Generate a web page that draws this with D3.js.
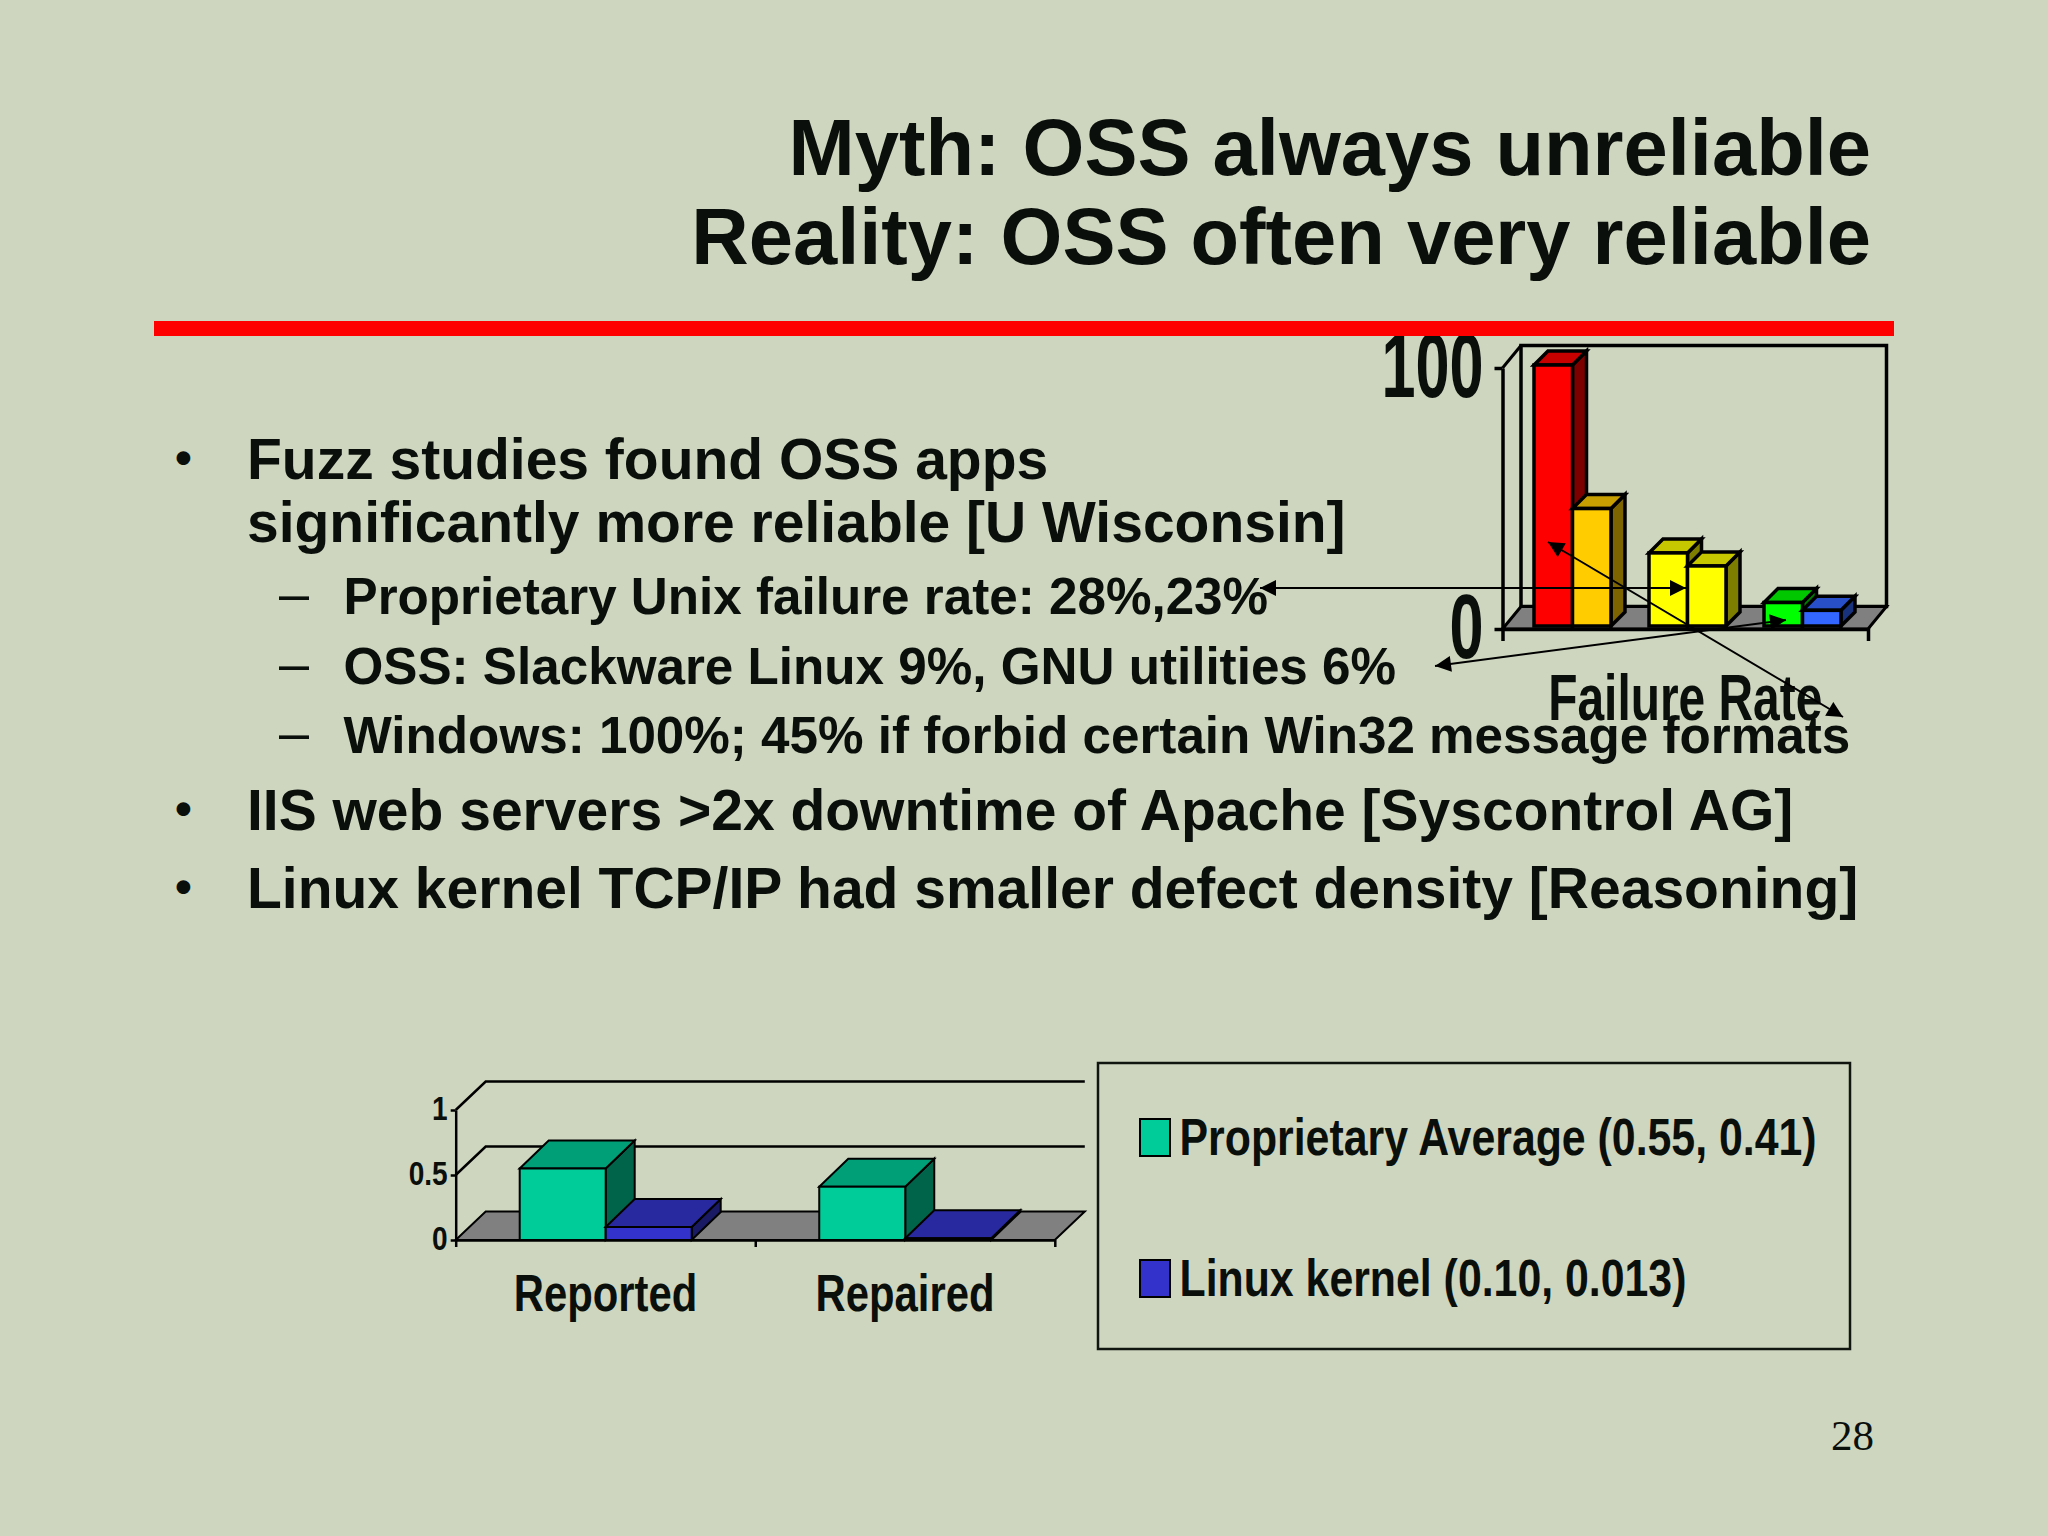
<!DOCTYPE html>
<html>
<head>
<meta charset="utf-8">
<title>Myth: OSS always unreliable</title>
<script src="https://cdn.jsdelivr.net/npm/d3@7"></script>
<style>
  html, body { margin: 0; padding: 0; background: #ced6bf; }
  svg { display: block; }
  text { font-family: "Liberation Sans", Arial, sans-serif; font-weight: bold; fill: #0b0f0b; }
</style>
</head>
<body>
<svg id="canvas" width="2048" height="1536"></svg>
<script>
// slide text
const titleLines = ['Myth: OSS always unreliable', 'Reality: OSS often very reliable'];
const mainLines = [
  'Fuzz studies found OSS apps',
  'significantly more reliable [U Wisconsin]',
  'IIS web servers >2x downtime of Apache [Syscontrol AG]',
  'Linux kernel TCP/IP had smaller defect density [Reasoning]'
];
const subLines = [
  'Proprietary Unix failure rate: 28%,23%',
  'OSS: Slackware Linux 9%, GNU utilities 6%',
  'Windows: 100%; 45% if forbid certain Win32 message formats'
];
const pageNumber = '28';

// failure rate chart
const failureCategory = ['Failure Rate'];
const failureGroups = ['Windows', 'Proprietary Unix', 'OSS'];
const failureFirst = [100, 28, 9];
const failureSecond = [45, 23, 6];
const failureTicks = [0, 100];
const failureFirstColors = ['#ff0000', '#ffff00', '#00ff00'];
const failureSecondColors = ['#ffcc00', '#ffff00', '#3366ff'];

// defect density chart
const defectCategories = ['Reported', 'Repaired'];
const proprietaryValues = [0.55, 0.41];
const linuxValues = [0.10, 0.013];
const defectTicks = [0, 0.5, 1];
const legendLabels = ['Proprietary Average (0.55, 0.41)', 'Linux kernel (0.10, 0.013)'];
const legendColors = ['#00cc99', '#3333cc'];

let canvas = d3.select('#canvas');

canvas.append('rect').attr('width', 2048).attr('height', 1536).attr('fill', '#ced6bf');

canvas.append('defs').append('marker')
  .attr('id', 'arrow')
  .attr('viewBox', '0 0 10 10')
  .attr('refX', 10)
  .attr('refY', 5)
  .attr('markerUnits', 'userSpaceOnUse')
  .attr('markerWidth', 17)
  .attr('markerHeight', 16)
  .attr('orient', 'auto-start-reverse')
  .append('path')
  .attr('d', 'M0,0 L10,5 L0,10 Z')
  .attr('fill', '#000');

// one box: front face, then top, then side
let drawBox = (group, x, y, width, bottom, depth, color, lineWidth) => {
  let dx = depth[0];
  let dy = depth[1];
  let base = d3.color(color);
  group.append('polygon')
    .attr('points', [[x + width, y], [x + width + dx, y - dy], [x + width + dx, bottom - dy], [x + width, bottom]].join(' '))
    .attr('fill', base.darker(2))
    .attr('stroke', '#000').attr('stroke-width', lineWidth);
  group.append('polygon')
    .attr('points', [[x, y], [x + dx, y - dy], [x + width + dx, y - dy], [x + width, y]].join(' '))
    .attr('fill', base.darker(0.7))
    .attr('stroke', '#000').attr('stroke-width', lineWidth);
  group.append('rect')
    .attr('x', x).attr('y', y)
    .attr('width', width).attr('height', bottom - y)
    .attr('fill', color)
    .attr('stroke', '#000').attr('stroke-width', lineWidth);
};

let squeezeTicks = (axisGroup, size, squeeze, gap, dy) => {
  axisGroup.selectAll('.tick text')
    .attr('font-size', size)
    .attr('x', -gap / squeeze)
    .attr('dy', dy)
    .attr('transform', 'scale(' + squeeze + ',1)');
};

let drawFailureChart = () => {
  let g = canvas.append('g');
  let left = 1502.5, right = 1868, floorY = 629, topY = 368;
  let wall = [18.5, 22.5];

  let y = d3.scaleLinear().domain([0, 100]).range([floorY, topY]);
  let yBar = d3.scaleLinear().domain([0, 100]).range([626, 365]);
  let x = d3.scaleBand().domain(failureCategory).range([left, right]);
  let xGroup = d3.scaleBand().domain(failureGroups).range([1515, 1860]);
  let xBar = d3.scaleBand().domain([0, 1]).range([19, 96]);

  g.append('rect')
    .attr('x', left + wall[0]).attr('y', y(100) - wall[1])
    .attr('width', right - left).attr('height', floorY - topY)
    .attr('fill', 'none').attr('stroke', '#000').attr('stroke-width', 3.5);
  g.append('polyline')
    .attr('points', [[left, y(100)], [left + wall[0], y(100) - wall[1]]].join(' '))
    .attr('fill', 'none').attr('stroke', '#000').attr('stroke-width', 3);
  g.append('polygon')
    .attr('points', [[left, floorY], [left + wall[0], floorY - wall[1]], [right + wall[0], floorY - wall[1]], [right, floorY]].join(' '))
    .attr('fill', '#808080').attr('stroke', '#000').attr('stroke-width', 3);

  failureGroups.forEach((name, i) => {
    let bars = g.append('g');
    drawBox(bars, xGroup(name) + xBar(0), yBar(failureFirst[i]), xBar.bandwidth(), yBar(0), [14, 14], failureFirstColors[i], 3.5);
    drawBox(bars, xGroup(name) + xBar(1), yBar(failureSecond[i]), xBar.bandwidth(), yBar(0), [14, 14], failureSecondColors[i], 3.5);
  });

  let yAxis = g.append('g')
    .attr('transform', 'translate(' + left + ',0)')
    .call(d3.axisLeft(y).tickValues(failureTicks).tickSize(8).tickSizeOuter(0).tickFormat(d3.format('d')));
  yAxis.selectAll('path, line').attr('stroke', '#000').attr('stroke-width', 3.5);
  squeezeTicks(yAxis, 90, 0.68, 19, '0.32em');

  let xAxis = g.append('g')
    .attr('transform', 'translate(0,' + floorY + ')')
    .call(d3.axisBottom(x).tickSizeInner(0).tickSizeOuter(12).tickPadding(0));
  xAxis.selectAll('path, line').attr('stroke', '#000').attr('stroke-width', 3.5);
  xAxis.selectAll('.tick text')
    .attr('font-size', 65.6)
    .attr('y', 91)
    .attr('dy', 0)
    .attr('transform', 'scale(0.73,1)');
};

let drawDefectChart = () => {
  let g = canvas.append('g');
  let left = 455.7, right = 1054.8, floorY = 1240, topY = 1110;
  let wall = [30, 28.5];

  let y = d3.scaleLinear().domain([0, 1]).range([floorY, topY]);
  let x = d3.scaleBand().domain(defectCategories).range([left, right]);
  let xBar = d3.scaleBand().domain([0, 1]).range([64, 236]);
  let xEdges = d3.scaleLinear().domain([0, defectCategories.length]).range([left, right]);

  g.selectAll('polyline.grid')
    .data(defectTicks.slice(1))
    .enter()
    .append('polyline')
    .attr('class', 'grid')
    .attr('points', (d) => [[left, y(d)], [left + wall[0], y(d) - wall[1]], [right + wall[0], y(d) - wall[1]]].join(' '))
    .attr('fill', 'none').attr('stroke', '#000').attr('stroke-width', 2.5);

  g.append('polygon')
    .attr('points', [[left, floorY], [left + wall[0], floorY - wall[1]], [right + wall[0], floorY - wall[1]], [right, floorY]].join(' '))
    .attr('fill', '#808080').attr('stroke', '#000').attr('stroke-width', 2);

  defectCategories.forEach((name, i) => {
    let bars = g.append('g');
    drawBox(bars, x(name) + xBar(0), y(proprietaryValues[i]), xBar.bandwidth(), floorY, [29, 28], legendColors[0], 2);
    drawBox(bars, x(name) + xBar(1), y(linuxValues[i]), xBar.bandwidth(), floorY, [29, 28], legendColors[1], 2);
  });

  let yAxis = g.append('g')
    .attr('transform', 'translate(' + left + ',0)')
    .call(d3.axisLeft(y).tickValues(defectTicks).tickSize(5).tickSizeOuter(0).tickFormat((d) => d));
  yAxis.selectAll('path, line').attr('stroke', '#000').attr('stroke-width', 2.5);
  squeezeTicks(yAxis, 33, 0.85, 8, '0.3em');

  let xTicks = g.append('g')
    .attr('transform', 'translate(0,' + floorY + ')')
    .call(d3.axisBottom(xEdges).tickValues(d3.range(defectCategories.length + 1)).tickSize(7).tickSizeOuter(0).tickFormat(''));
  xTicks.selectAll('path, line').attr('stroke', '#000').attr('stroke-width', 2.5);

  let xAxis = g.append('g')
    .attr('transform', 'translate(0,' + floorY + ')')
    .call(d3.axisBottom(x).tickSize(0));
  xAxis.select('.domain').remove();
  xAxis.selectAll('.tick text')
    .attr('font-size', 52.6)
    .attr('y', 71.5)
    .attr('dy', 0)
    .attr('transform', 'scale(0.795,1)');
};

let drawLegend = () => {
  let g = canvas.append('g');
  g.append('rect')
    .attr('x', 1098).attr('y', 1063)
    .attr('width', 752).attr('height', 286)
    .attr('fill', 'none').attr('stroke', '#10150f').attr('stroke-width', 2.5);

  let rowY = d3.scalePoint().domain(legendLabels).range([1155, 1296]);
  let rows = g.selectAll('g.row')
    .data(legendLabels)
    .enter()
    .append('g')
    .attr('class', 'row')
    .attr('transform', (d) => 'translate(1140,' + rowY(d) + ')');
  rows.append('rect')
    .attr('x', 0).attr('y', -36)
    .attr('width', 30).attr('height', 37)
    .attr('fill', (d, i) => legendColors[i])
    .attr('stroke', '#000').attr('stroke-width', 2);
  rows.append('text')
    .attr('transform', 'translate(39.5,0) scale(0.83,1)')
    .attr('font-size', 51.6)
    .text((d) => d);
};

let drawText = () => {
  canvas.append('rect')
    .attr('x', 154).attr('y', 321)
    .attr('width', 1740).attr('height', 15)
    .attr('fill', '#ff0000');

  let titleY = [175, 264];
  canvas.selectAll('text.title')
    .data(titleLines)
    .enter()
    .append('text')
    .attr('class', 'title')
    .attr('x', 1871)
    .attr('y', (d, i) => titleY[i])
    .attr('text-anchor', 'end')
    .attr('font-size', 79.5)
    .text((d) => d);

  let mainY = [479, 542, 829.5, 907.5];
  let mainBullets = [0, 2, 3];
  canvas.selectAll('text.main')
    .data(mainLines)
    .enter()
    .append('text')
    .attr('class', 'main')
    .attr('x', 247)
    .attr('y', (d, i) => mainY[i])
    .attr('font-size', 57)
    .text((d) => d);
  canvas.selectAll('text.bullet')
    .data(mainBullets)
    .enter()
    .append('text')
    .attr('class', 'bullet')
    .attr('x', 175)
    .attr('y', (d) => mainY[d] - 5)
    .attr('font-size', 48)
    .text('•');

  let subY = [614, 684, 753];
  canvas.selectAll('text.sub')
    .data(subLines)
    .enter()
    .append('text')
    .attr('class', 'sub')
    .attr('x', 343.5)
    .attr('y', (d, i) => subY[i])
    .attr('font-size', 51.2)
    .text((d) => d);
  canvas.selectAll('text.dash')
    .data(subLines)
    .enter()
    .append('text')
    .attr('class', 'dash')
    .attr('x', 279)
    .attr('y', (d, i) => subY[i] - 2)
    .attr('font-size', 54)
    .style('font-weight', 'normal')
    .text('–');

  canvas.append('text')
    .attr('x', 1874)
    .attr('y', 1450)
    .attr('text-anchor', 'end')
    .attr('font-size', 43)
    .style('font-family', '"Liberation Serif", serif')
    .style('font-weight', 'normal')
    .text(pageNumber);
};

let drawArrows = () => {
  let arrows = [
    [[1260, 588], [1686, 588]],
    [[1435, 666], [1786, 620]],
    [[1548, 542], [1843, 717]]
  ];
  canvas.selectAll('line.arrow')
    .data(arrows)
    .enter()
    .append('line')
    .attr('class', 'arrow')
    .attr('x1', (d) => d[0][0])
    .attr('y1', (d) => d[0][1])
    .attr('x2', (d) => d[1][0])
    .attr('y2', (d) => d[1][1])
    .attr('stroke', '#000')
    .attr('stroke-width', 2)
    .attr('marker-start', 'url(#arrow)')
    .attr('marker-end', 'url(#arrow)');
};

drawFailureChart();
drawDefectChart();
drawLegend();
drawText();
drawArrows();
</script>
</body>
</html>
